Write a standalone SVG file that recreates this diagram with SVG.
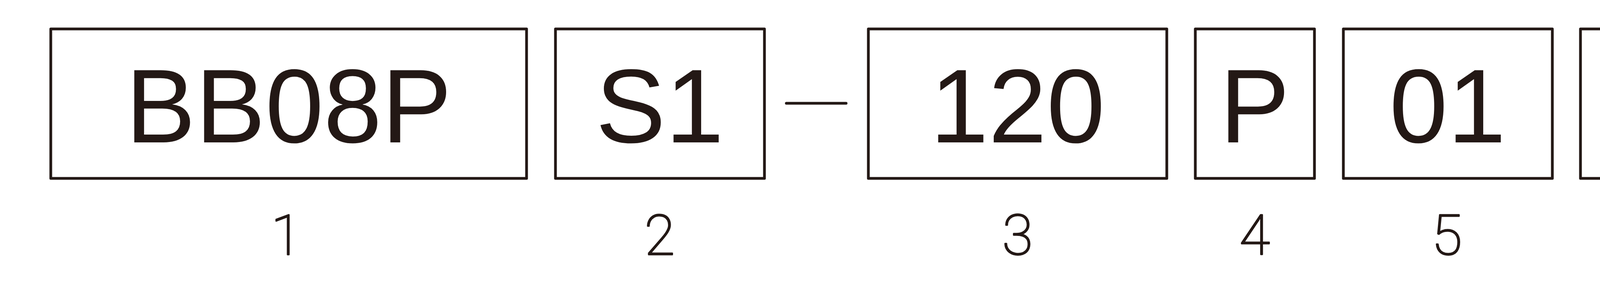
<svg xmlns="http://www.w3.org/2000/svg" width="7761" height="749" viewBox="0 0 7761 749">
<style>
.box{fill:none;stroke:#231815;stroke-width:7;stroke-linejoin:round}
.dash{stroke:#231815;stroke-width:7;stroke-linecap:round}
.code{font-family:"Liberation Sans",Arial,sans-serif;font-size:268px;fill:#231815;text-anchor:middle}
.num{font-family:Roboto,"Liberation Sans",sans-serif;font-weight:100;font-size:143px;fill:#231815;stroke:#231815;stroke-width:3.5;stroke-linejoin:round;stroke-linecap:round;text-anchor:middle}
</style>
<rect width="7761" height="749" fill="#fff"/>
<g id="node1"><rect class="box" x="130" y="74" width="1218" height="382"/><text class="code" x="739" y="364">BB08P</text><text class="num" x="733" y="651">1</text></g>
<g id="node2"><rect class="box" x="1422" y="74" width="535" height="382"/><text class="code" x="1689" y="364">S1</text><text class="num" x="1689" y="651">2</text></g>
<g id="node3"><rect class="box" x="2223" y="74" width="764" height="382"/><text class="code" x="2605" y="364">120</text><text class="num" x="2605" y="651">3</text></g>
<g id="node4"><rect class="box" x="3060" y="74" width="305" height="382"/><text class="code" x="3212" y="364">P</text><text class="num" x="3212" y="651">4</text></g>
<g id="node5"><rect class="box" x="3439" y="74" width="535" height="382"/><text class="code" x="3706" y="364">01</text><text class="num" x="3704" y="651">5</text></g>
<g id="node6"><rect class="box" x="4046" y="74" width="302" height="382"/><text class="code" x="4197" y="364">G</text><text class="num" x="4196" y="651">6</text></g>
<g id="node7"><rect class="box" x="4422" y="74" width="306" height="382"/><text class="code" x="4575" y="364">B</text><text class="num" x="4570" y="651">7</text></g>
<g id="node8"><rect class="box" x="4801" y="74" width="305" height="382"/><text class="code" x="4953" y="364">R</text><text class="num" x="4949" y="651">8</text></g>
<g id="suffix"><text class="code" x="5425" y="364" style="text-anchor:start">1</text></g>
<g id="connectors">
<line class="dash" x1="2013" y1="264" x2="2166" y2="264"/>
<line class="dash" x1="5199" y1="264" x2="5354" y2="264"/>
</g>
</svg>
